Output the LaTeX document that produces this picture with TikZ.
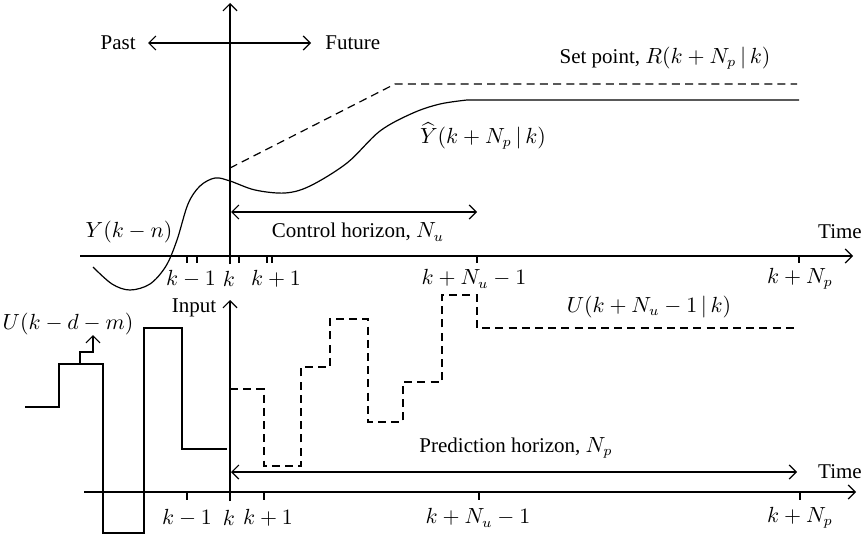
\documentclass[tikz,border=0pt]{standalone}
\usepackage{amsmath}
\usepackage{fontspec}
\setmainfont{Liberation Serif}
\usetikzlibrary{arrows.meta,positioning}

\begin{document}
\begin{tikzpicture}[x=0.5pt,y=-0.5pt,font=\fontsize{10.5}{12}\selectfont,
  ln/.style={line width=0.6pt},
  arr/.style={ln,-{Straight Barb[length=3.5pt,width=7pt]}},
  dbl/.style={ln,{Straight Barb[length=3.5pt,width=7pt]}-{Straight Barb[length=3.5pt,width=7pt]}},
  dsh/.style={ln,dash pattern=on 4pt off 2.6pt},
  tk/.style={ln},
  lab/.style={inner sep=1pt}]
\useasboundingbox (0,0) rectangle (866,540);
% output part
\coordinate (o1) at (230,256);
\draw[arr] (80,256) -- (853,256);
\draw[arr] (230,264) -- (230,3);
\foreach \x in {187,197,239,267,272,477,799} \draw[tk] (\x,256) -- (\x,263);
\coordinate (pf1) at (148,43);
\coordinate (pf2) at (311,43);
\draw[dbl] (pf1) -- (pf2);
\node[lab,anchor=east] (past) at ([xshift=-5pt]pf1) {Past};
\node[lab,anchor=west] (future) at ([xshift=6pt]pf2) {Future};
\draw[dsh] (230,168) -- (395,84) -- (797,84);
\draw[ln] plot[smooth,tension=0.55] coordinates {(93,267) (112,284) (130,290) (150,284) (166,266) (177,240) (188,204) (200,186) (215,178) (230,181) (255,190) (285,193) (310,186) (347,163) (380,131) (413,113) (440,104) (467,100)} -- (799,100);
\node[lab] (setpt) at (665,58) {Set point, $R(k+N_p\,|\,k)$};
\node[lab] (yhat) at (483,136) {$\widehat{Y}(k+N_p\,|\,k)$};
\node[lab] (ykn) at (129,232) {$Y(k-n)$};
\coordinate (ch1) at (231,212);
\coordinate (ch2) at (477,212);
\draw[dbl] (ch1) -- (ch2);
\node[lab] (ctrl) at (358,232) {Control horizon, $N_u$};
\node[lab] (time1) at (840,232) {Time};
\node[lab] (t1a) at (191,279) {$k-1$};
\node[lab] (t1b) at (229,279) {$k$};
\node[lab] (t1c) at (276,279) {$k+1$};
\node[lab] (t1d) at (474,279) {$k+N_u-1$};
\node[lab] (t1e) at (800,279) {$k+N_p$};
% input part
\draw[arr] (84,492) -- (856,492);
\draw[arr] (230,501) -- (230,300);
\foreach \x in {187,264,479,800} \draw[tk] (\x,492) -- (\x,500);
\node[lab] (inp) at (194,308) {Input};
\draw[ln] (25,407) -| (59,364) -| (103,533) -| (144,328) -| (182,449) -- (227,449);
\node[lab] (udm) at (68,324) {$U(k-d-m)$};
\coordinate (ua) at (93,335);
\draw[arr] (80,364) |- (93,352) -- (ua);
\draw[dsh] (230,389) -| (264,466) -| (301,367) -| (330,319) -| (368,422) -| (403,382) -| (442,295) -| (477,328) -- (797,328);
\node[lab] (ulast) at (649,307) {$U(k+N_u-1\,|\,k)$};
\coordinate (ph1) at (231,472);
\coordinate (ph2) at (797,472);
\draw[dbl] (ph1) -- (ph2);
\node[lab] (pred) at (516,448) {Prediction horizon, $N_p$};
\node[lab] (time2) at (840,472) {Time};
\node[lab] (t2a) at (187,518) {$k-1$};
\node[lab] (t2b) at (229,518) {$k$};
\node[lab] (t2c) at (268,518) {$k+1$};
\node[lab] (t2d) at (478,518) {$k+N_u-1$};
\node[lab] (t2e) at (800,518) {$k+N_p$};
\end{tikzpicture}
\end{document}
